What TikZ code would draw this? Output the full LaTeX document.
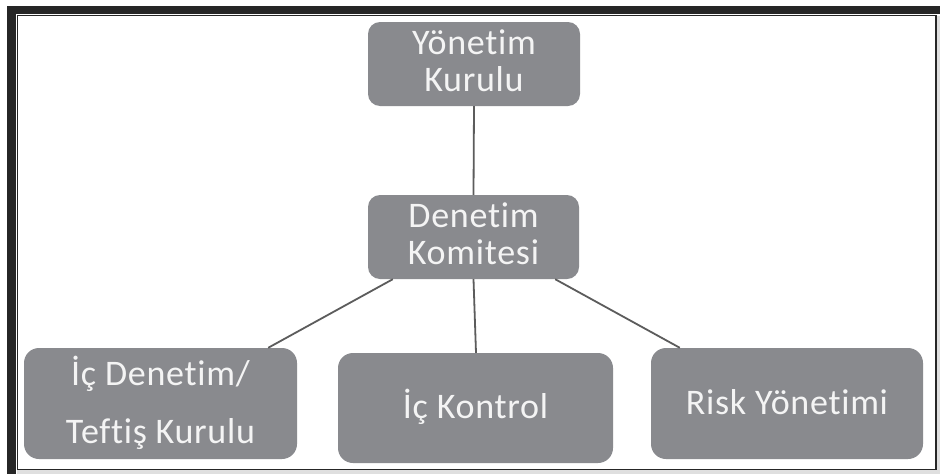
\documentclass[tikz,border=0pt]{standalone}
\usepackage{fontspec}
\setmainfont{Carlito}[Ligatures=NoCommon,LetterSpace=2]
\usetikzlibrary{calc}
\definecolor{boxgray}{HTML}{898A8E}
\definecolor{txtwhite}{HTML}{F4F4F4}
\definecolor{linegray}{HTML}{5C5C5C}
\definecolor{framedark}{HTML}{262626}
\begin{document}
\begin{tikzpicture}[x=1pt,y=-1pt,
  orgbox/.style={fill=boxgray, rounded corners=12pt, inner sep=0pt},
  bigbox/.style={orgbox, rounded corners=15pt},
  orgtext/.style={text=txtwhite, align=center, inner sep=0pt},
  conn/.style={draw=linegray, line width=1.8pt}]
\useasboundingbox (0,0) rectangle (940,474);
% frame
\fill[white] (0,0) rectangle (940,474);
\fill[framedark] (7,6) rectangle (940,13.5);
\fill[framedark] (7,6) rectangle (15.5,474);
\fill[gray!25] (937,16) rectangle (940,474);
\fill[gray!25] (17,470) rectangle (940,474);
\draw[framedark, line width=1.3pt] (17.8,15.8) rectangle (936,469.5);
% boxes
\node[orgbox, minimum width=212pt, minimum height=84pt] (yk) at (474,64) {};
\node[orgbox, minimum width=211pt, minimum height=84pt] (dk) at (473.5,237) {};
\node[bigbox, minimum width=273pt, minimum height=111pt] (icd) at (160.5,403.5) {};
\node[bigbox, minimum width=275pt, minimum height=110pt] (ick) at (475.5,408) {};
\node[bigbox, minimum width=272pt, minimum height=111pt] (ry) at (787,403.5) {};
% texts
\node[orgtext, font=\fontsize{36}{37}\selectfont] (ykt) at ($(yk.center)+(0,-3)$) {Yönetim\\Kurulu};
\node[orgtext, font=\fontsize{36}{37}\selectfont] (dkt) at ($(dk.center)+(0,-3)$) {Denetim\\Komitesi};
\node[orgtext, font=\fontsize{36}{58}\selectfont] (icdt) at ($(icd.center)+(0,-1)$) {İç Denetim/\\Teftiş Kurulu};
\node[orgtext, font=\fontsize{36}{40}\selectfont] (ickt) at ($(ick.center)+(0,-1)$) {İç Kontrol};
\node[orgtext, font=\fontsize{36}{40}\selectfont] (ryt) at ($(ry.center)+(0,-1)$) {Risk Yönetimi};
% connectors
\draw[conn] (yk.south) -- (dk.north);
\draw[conn] ($(dk.south west)+(25,0)$) -- ($(icd.north east)+(-29,0)$);
\draw[conn] (dk.south) -- ($(ick.north)+(0.5,0)$);
\draw[conn] ($(dk.south east)+(-24,0)$) -- ($(ry.north west)+(29,0)$);
\end{tikzpicture}
\end{document}
